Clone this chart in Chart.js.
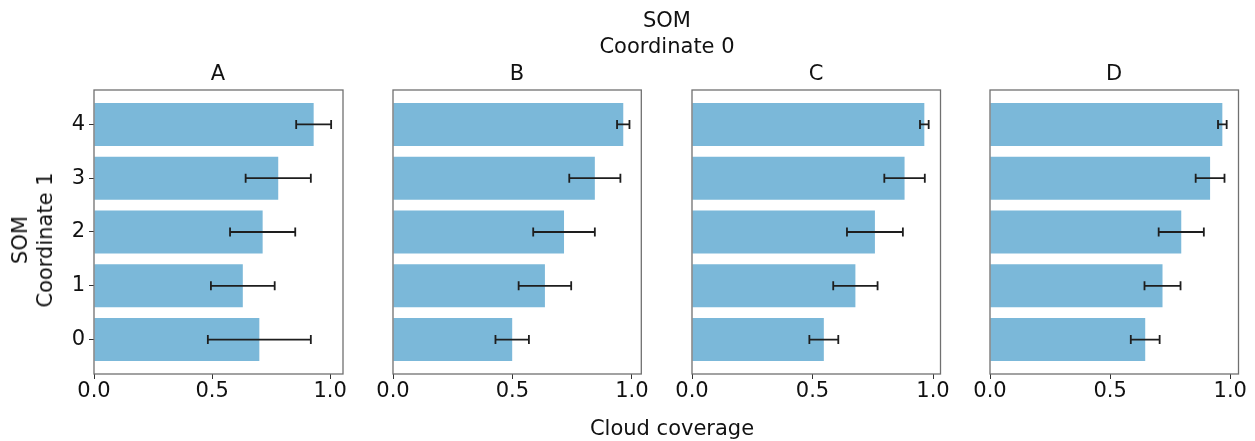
<!DOCTYPE html>
<html>
<head>
<meta charset="utf-8">
<script src="https://cdn.jsdelivr.net/npm/chart.js@4/dist/chart.umd.min.js"></script>
<style>
  html, body { margin: 0; padding: 0; background: #fff; }
  #wrap { position: relative; width: 1255px; height: 441px; overflow: hidden;
          font-family: "DejaVu Sans", sans-serif; color: #111; }
  #wrap canvas { position: absolute; top: 0; }
  .lbl { position: absolute; transform: translate(-50%, -50%); white-space: nowrap;
         font-size: 21px; line-height: 26px; text-align: center; }
  .ylbl { position: absolute; transform: translate(-50%, -50%) rotate(-90deg);
          white-space: nowrap; font-size: 21px; line-height: 25px; text-align: center; }
</style>
</head>
<body>
<div id="wrap">
  <div class="lbl" style="left:667px; top:33px;">SOM<br>Coordinate 0</div>
  <div class="lbl" style="left:218px; top:73px;">A</div>
  <div class="lbl" style="left:517px; top:73px;">B</div>
  <div class="lbl" style="left:816px; top:73px;">C</div>
  <div class="lbl" style="left:1114px; top:73px;">D</div>
  <div class="lbl" style="left:672px; top:428px;">Cloud coverage</div>
  <div class="ylbl" style="left:33px; top:240px;">SOM<br>Coordinate 1</div>
</div>
<script>
// SOM coordinate 1 rows (0 at the bottom)
const rows = [0, 1, 2, 3, 4];
const yTickValues = [0, 1, 2, 3, 4];
const xTickValues = [0, 0.5, 1.0];
const panelNames = ['A', 'B', 'C', 'D'];

// mean cloud coverage per row, and its error
const meanA = [0.700, 0.630, 0.714, 0.780, 0.930];
const errA  = [0.218, 0.135, 0.138, 0.138, 0.074];
const meanB = [0.499, 0.636, 0.716, 0.845, 0.964];
const errB  = [0.070, 0.110, 0.129, 0.107, 0.026];
const meanC = [0.547, 0.678, 0.759, 0.882, 0.964];
const errC  = [0.060, 0.092, 0.116, 0.084, 0.018];
const meanD = [0.646, 0.718, 0.796, 0.916, 0.967];
const errD  = [0.060, 0.075, 0.094, 0.060, 0.018];

const means = [meanA, meanB, meanC, meanD];
const errs = [errA, errB, errC, errD];

// plot area boxes (left, right), shared top / bottom
const boxes = [[94, 343], [392.7, 641], [691.5, 940], [990, 1238.5]];
const boxTop = 90, boxBottom = 374;
const axisRoom = 94;   // space left of each plot area for tick labels
const rightRoom = 14;  // space right of each plot area

const barColor = '#7bb8d9';
const frameColor = '#707070';
const textColor = '#111111';
const FONT = "'DejaVu Sans', sans-serif";

const errorBars = {
  id: 'errorBars',
  afterDatasetsDraw(chart, args, opts) {
    const { ctx, scales: { x, y } } = chart;
    ctx.save();
    ctx.strokeStyle = '#1e1e1e';
    ctx.lineWidth = 1.8;
    opts.mean.forEach((m, i) => {
      const py = y.getPixelForValue(rows[i]);
      const x1 = x.getPixelForValue(m - opts.err[i]);
      const x2 = x.getPixelForValue(m + opts.err[i]);
      ctx.beginPath();
      ctx.moveTo(x1, py); ctx.lineTo(x2, py);
      ctx.moveTo(x1, py - 4.5); ctx.lineTo(x1, py + 4.5);
      ctx.moveTo(x2, py - 4.5); ctx.lineTo(x2, py + 4.5);
      ctx.stroke();
    });
    ctx.restore();
  }
};

const frame = {
  id: 'frame',
  afterDraw(chart) {
    const { ctx, chartArea: a } = chart;
    ctx.save();
    ctx.strokeStyle = frameColor;
    ctx.lineWidth = 1.3;
    ctx.strokeRect(a.left, a.top, a.right - a.left, a.bottom - a.top);
    ctx.restore();
  }
};

const wrap = document.getElementById('wrap');

panelNames.forEach((name, p) => {
  const m = means[p], e = errs[p];
  const hi = Math.max(...m.map((v, i) => v + e[i]));
  const xMax = hi * 1.05;
  const [left, right] = boxes[p];
  const first = p === 0;

  const cv = document.createElement('canvas');
  const w = Math.round(right - left) + axisRoom + rightRoom;
  cv.width = w; cv.height = 441;
  cv.style.left = (left - axisRoom) + 'px';
  wrap.insertBefore(cv, wrap.firstChild);

  new Chart(cv, {
    type: 'bar',
    data: {
      datasets: [{
        data: rows.map((r, i) => ({ x: m[i], y: r })),
        backgroundColor: barColor,
        borderWidth: 0,
        barPercentage: 0.8,
        categoryPercentage: 1.0
      }]
    },
    options: {
      indexAxis: 'y',
      responsive: false,
      animation: false,
      devicePixelRatio: 1,
      layout: { padding: { left: 0, right: w - axisRoom - (right - left), top: boxTop, bottom: 0 } },
      plugins: {
        legend: { display: false },
        tooltip: { enabled: false },
        errorBars: { mean: m, err: e }
      },
      scales: {
        x: {
          type: 'linear',
          min: 0,
          max: xMax,
          offset: false,
          afterBuildTicks: (ax) => { ax.ticks = xTickValues.map(v => ({ value: v })); },
          afterFit: (ax) => { ax.height = 441 - boxBottom; },
          border: { display: false },
          grid: { offset: false, drawOnChartArea: false, drawTicks: true, tickLength: 5, color: '#333', tickWidth: 1 },
          ticks: {
            color: textColor,
            padding: 0,
            maxRotation: 0,
            autoSkip: false,
            font: { family: FONT, size: 21 },
            callback: (v) => Number(v).toFixed(1)
          }
        },
        y: {
          type: 'linear',
          min: -0.64,
          max: 4.64,
          offset: false,
          afterBuildTicks: (ax) => { ax.ticks = yTickValues.map(v => ({ value: v })); },
          afterFit: (ax) => { ax.width = axisRoom; },
          border: { display: false },
          grid: { offset: false, drawOnChartArea: false, drawTicks: first, tickLength: 5, color: '#333', tickWidth: 1 },
          ticks: {
            display: first,
            color: textColor,
            padding: 4,
            font: { family: FONT, size: 21 },
            callback: (v) => String(v)
          }
        }
      }
    },
    plugins: [errorBars, frame]
  });
});
</script>
</body>
</html>
